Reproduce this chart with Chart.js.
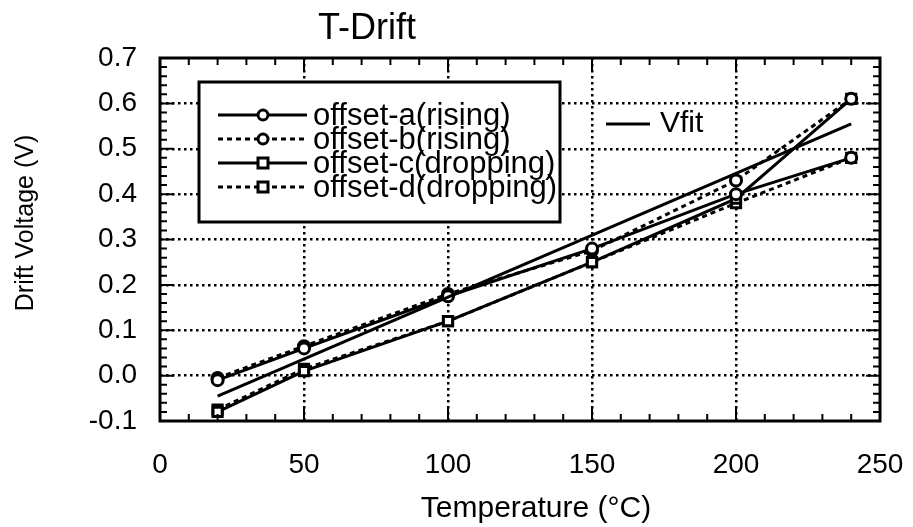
<!DOCTYPE html>
<html>
<head>
<meta charset="utf-8">
<script src="https://cdn.jsdelivr.net/npm/chart.js@4.4.1/dist/chart.umd.min.js"></script>
<style>
  html, body { margin: 0; padding: 0; background: #fff; }
</style>
</head>
<body>
<canvas id="myChart" width="913" height="527"></canvas>
<script>
// temperatures where offsets were measured (°C)
var temps = [20, 50, 100, 150, 200, 240];

// drift voltages (V)
var offsetA = [-0.01, 0.06, 0.175, 0.28, 0.40, 0.48];
var offsetB = [-0.005, 0.065, 0.18, 0.275, 0.43, 0.61];
var offsetC = [-0.08, 0.01, 0.12, 0.25, 0.39, 0.61];
var offsetD = [-0.075, 0.015, 0.12, 0.25, 0.38, 0.48];

// fit line end points
var vfitT = [20, 240];
var vfitV = [-0.045, 0.555];

var seriesNames = ['offset-a(rising)', 'offset-b(rising)', 'offset-c(dropping)', 'offset-d(dropping)'];

var FONT = "'Liberation Sans', Arial, Helvetica, sans-serif";

function pts(xs, ys) {
  return xs.map(function (x, i) { return { x: x, y: ys[i] }; });
}

function serie(label, ys, dashed, marker) {
  return {
    label: label,
    data: pts(temps, ys),
    borderColor: '#000',
    backgroundColor: '#fff',
    borderWidth: 3,
    borderDash: dashed ? [5, 4] : [],
    pointStyle: marker,
    pointRadius: marker === 'rect' ? 6.5 : 5.5,
    pointBorderWidth: 3,
    pointBackgroundColor: '#fff',
    pointBorderColor: '#000',
    tension: 0
  };
}

// frame + inward ticks on the four sides, axis titles
var framePlugin = {
  id: 'frame',
  afterDatasetsDraw: function (chart) {
    var ctx = chart.ctx, a = chart.chartArea;
    var sx = chart.scales.x, sy = chart.scales.y;
    ctx.save();
    ctx.strokeStyle = '#000';
    ctx.lineWidth = 2;
    var v, p, len;
    for (v = 0; v <= 250; v += 10) {
      p = sx.getPixelForValue(v);
      len = (v % 50 === 0) ? 14 : 7;
      ctx.beginPath();
      ctx.moveTo(p, a.bottom); ctx.lineTo(p, a.bottom - len);
      ctx.moveTo(p, a.top); ctx.lineTo(p, a.top + len);
      ctx.stroke();
    }
    for (var k = -5; k <= 35; k++) {
      p = sy.getPixelForValue(k * 0.02);
      len = (k % 5 === 0) ? 14 : 7;
      ctx.beginPath();
      ctx.moveTo(a.left, p); ctx.lineTo(a.left + len, p);
      ctx.moveTo(a.right, p); ctx.lineTo(a.right - len, p);
      ctx.stroke();
    }
    ctx.lineWidth = 3;
    ctx.strokeRect(a.left, a.top, a.right - a.left, a.bottom - a.top);

    // axis titles
    ctx.fillStyle = '#000';
    ctx.textAlign = 'center';
    ctx.textBaseline = 'middle';
    ctx.font = '30px ' + FONT;
    ctx.fillText('Temperature (°C)', a.left + 376, 509);
    ctx.save();
    ctx.translate(26, a.top + 165);
    ctx.rotate(-Math.PI / 2);
    ctx.font = '25px ' + FONT;
    ctx.fillText('Drift Voltage (V)', 0, 0);
    ctx.restore();
    ctx.restore();
  }
};

function drawMarker(ctx, style, x, y) {
  ctx.save();
  ctx.setLineDash([]);
  ctx.lineWidth = 3;
  ctx.fillStyle = '#fff';
  ctx.beginPath();
  if (style === 'rect') {
    ctx.rect(x - 5, y - 5, 10, 10);
  } else {
    ctx.arc(x, y, 5, 0, Math.PI * 2);
  }
  ctx.fill();
  ctx.stroke();
  ctx.restore();
}

// legend boxes and title
var legendPlugin = {
  id: 'customLegend',
  afterDraw: function (chart) {
    var ctx = chart.ctx;
    ctx.save();
    ctx.fillStyle = '#000';
    ctx.strokeStyle = '#000';

    ctx.font = '36px ' + FONT;
    ctx.textAlign = 'center';
    ctx.textBaseline = 'middle';
    ctx.fillText('T-Drift', 367, 29);

    ctx.fillStyle = '#fff';
    ctx.fillRect(199, 82, 361, 140);
    ctx.lineWidth = 3;
    ctx.strokeRect(199, 82, 361, 140);

    ctx.font = '31px ' + FONT;
    ctx.textAlign = 'left';
    ctx.fillStyle = '#000';
    var rowY = 115;
    chart.data.datasets.forEach(function (ds) {
      if (ds.label === 'Vfit') return;
      ctx.setLineDash(ds.borderDash);
      ctx.lineWidth = 3;
      ctx.beginPath();
      ctx.moveTo(218, rowY);
      ctx.lineTo(307, rowY);
      ctx.stroke();
      drawMarker(ctx, ds.pointStyle, 263, rowY);
      ctx.fillText(ds.label, 313, rowY + 1);
      rowY += 24;
    });

    ctx.setLineDash([]);
    ctx.beginPath();
    ctx.moveTo(606, 124);
    ctx.lineTo(650, 124);
    ctx.stroke();
    ctx.font = '30px ' + FONT;
    ctx.fillText('Vfit', 660, 124);
    ctx.restore();
  }
};

function gridColor(edges) {
  return function (c) {
    var v = c.tick ? c.tick.value : null;
    for (var i = 0; i < edges.length; i++) {
      if (v !== null && Math.abs(v - edges[i]) < 1e-6) return 'rgba(0,0,0,0)';
    }
    return '#000';
  };
}

var ctx = document.getElementById('myChart').getContext('2d');
var myChart = new Chart(ctx, {
  type: 'line',
  data: {
    datasets: [
      {
        label: 'Vfit',
        data: pts(vfitT, vfitV),
        borderColor: '#000',
        borderWidth: 3,
        pointRadius: 0,
        tension: 0
      },
      serie(seriesNames[0], offsetA, false, 'circle'),
      serie(seriesNames[1], offsetB, true, 'circle'),
      serie(seriesNames[2], offsetC, false, 'rect'),
      serie(seriesNames[3], offsetD, true, 'rect')
    ]
  },
  options: {
    responsive: false,
    animation: false,
    layout: { padding: { top: 58, right: 33, left: 0, bottom: 0 } },
    plugins: {
      legend: { display: false },
      tooltip: { enabled: false }
    },
    scales: {
      x: {
        type: 'linear',
        min: 0,
        max: 250,
        afterFit: function (s) { s.height = 106; },
        ticks: { stepSize: 50, padding: 0, color: '#000', maxRotation: 0, font: { family: FONT, size: 28 } },
        grid: { drawTicks: true, tickLength: 27, tickColor: 'rgba(0,0,0,0)', lineWidth: 2.5, color: gridColor([0, 250]) },
        border: { display: false, dash: [2.5, 3.5] }
      },
      y: {
        min: -0.1,
        max: 0.7,
        afterFit: function (s) { s.width = 160; },
        ticks: {
          stepSize: 0.1, padding: 0, color: '#000', font: { family: FONT, size: 28 },
          callback: function (v) { return Math.abs(v) < 1e-9 ? '0.0' : v.toFixed(1); }
        },
        grid: { drawTicks: true, tickLength: 23, tickColor: 'rgba(0,0,0,0)', lineWidth: 2.5, color: gridColor([-0.1, 0.7]) },
        border: { display: false, dash: [2.5, 3.5] }
      }
    }
  },
  plugins: [framePlugin, legendPlugin]
});
</script>
</body>
</html>
